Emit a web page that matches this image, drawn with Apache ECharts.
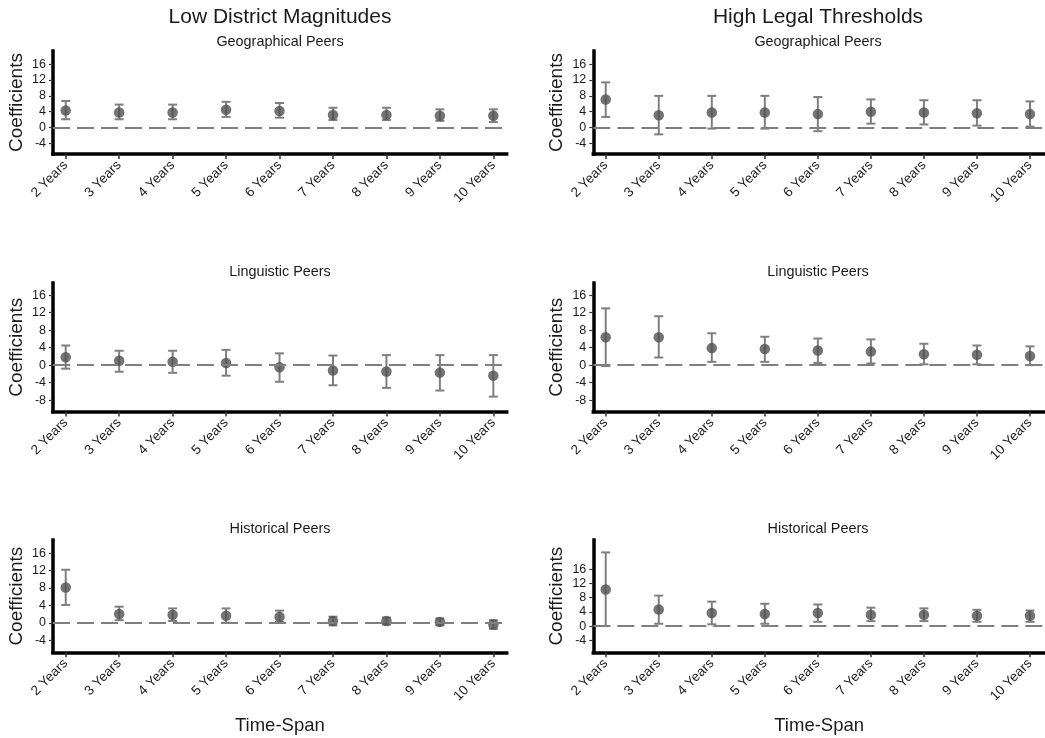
<!DOCTYPE html>
<html>
<head>
<meta charset="utf-8">
<script src="https://cdn.jsdelivr.net/npm/echarts@6/dist/echarts.min.js"></script>
<style>
html,body{margin:0;padding:0;background:#fff;}
#chart{width:1045px;height:738px;}
</style>
</head>
<body>
<div id="chart"></div>
<script>
// ---- data ----
const years = [2, 3, 4, 5, 6, 7, 8, 9, 10];
const yearLabels = ['2 Years', '3 Years', '4 Years', '5 Years', '6 Years', '7 Years', '8 Years', '9 Years', '10 Years'];
const columnTitles = ['Low District Magnitudes', 'High Legal Thresholds'];
const rowTitles = ['Geographical Peers', 'Linguistic Peers', 'Historical Peers'];
const yTicksA = [-4, 0, 4, 8, 12, 16];
const yTicksB = [-8, -4, 0, 4, 8, 12, 16];

// Low District Magnitudes
const geoLowEst = [4.3, 3.8, 3.8, 4.5, 4.2, 3.2, 3.2, 3.0, 3.0];
const geoLowLo  = [2.1, 2.1, 2.1, 2.7, 2.5, 1.9, 1.9, 1.7, 1.4];
const geoLowHi  = [6.7, 5.8, 5.8, 6.5, 6.2, 5.0, 5.0, 4.6, 4.6];

const lingLowEst = [1.8, 1.0, 0.8, 0.5, -0.5, -1.2, -1.45, -1.7, -2.4];
const lingLowLo  = [-0.8, -1.5, -1.75, -2.4, -3.8, -4.6, -5.2, -5.8, -7.2];
const lingLowHi  = [4.5, 3.3, 3.3, 3.5, 2.7, 2.2, 2.3, 2.3, 2.3];

const histLowEst = [8.1, 2.0, 1.85, 1.6, 1.4, 0.4, 0.4, 0.2, -0.4];
const histLowLo  = [4.1, 0.6, 0.4, 0.0, 0.2, -0.6, -0.4, -0.6, -1.4];
const histLowHi  = [12.2, 3.7, 3.3, 3.3, 2.8, 1.4, 1.2, 1.0, 0.6];

// High Legal Thresholds
const geoHighEst = [7.1, 3.1, 3.8, 3.8, 3.4, 4.0, 3.8, 3.6, 3.4];
const geoHighLo  = [2.7, -1.7, -0.25, -0.25, -0.9, 1.0, 0.8, 0.5, 0.25];
const geoHighHi  = [11.4, 8.0, 8.0, 8.0, 7.7, 7.1, 6.9, 6.9, 6.6];

const lingHighEst = [6.4, 6.4, 3.9, 3.7, 3.35, 3.1, 2.5, 2.4, 2.1];
const lingHighLo  = [-0.2, 1.75, 0.76, 0.76, 0.5, 0.4, 0.2, 0.2, 0.0];
const lingHighHi  = [13.0, 11.2, 7.3, 6.5, 6.1, 5.9, 4.9, 4.5, 4.3];

const histHighEst = [10.35, 4.7, 3.7, 3.4, 3.7, 3.2, 3.2, 2.9, 2.9];
const histHighLo  = [0.0, 0.66, 0.5, 0.66, 1.2, 1.4, 1.4, 1.2, 1.2];
const histHighHi  = [20.8, 8.6, 6.9, 6.3, 6.1, 5.2, 5.0, 4.6, 4.4];

// ---- layout (styles/positions) ----
const FONT = '"Liberation Sans", Arial, sans-serif';
const panels = [
  { est: geoLowEst,  lo: geoLowLo,  hi: geoLowHi,  grid: {left: 53, top: 51, width: 453.7, height: 103}, x: [1.762, 10.25], y: [-6.65, 19.3], ticks: yTicksA, last: false },
  { est: geoHighEst, lo: geoHighLo, hi: geoHighHi, grid: {left: 593.3, top: 51, width: 451.7, height: 103}, x: [1.766, 10.283], y: [-6.65, 19.3], ticks: yTicksA, last: false },
  { est: lingLowEst, lo: lingLowLo, hi: lingLowHi, grid: {left: 53, top: 283, width: 453.7, height: 128.5}, x: [1.762, 10.25], y: [-10.6, 18.8], ticks: yTicksB, last: false },
  { est: lingHighEst, lo: lingHighLo, hi: lingHighHi, grid: {left: 593.3, top: 283, width: 451.7, height: 128.5}, x: [1.766, 10.283], y: [-10.6, 18.8], ticks: yTicksB, last: false },
  { est: histLowEst, lo: histLowLo, hi: histLowHi, grid: {left: 53, top: 540, width: 453.7, height: 112.3}, x: [1.762, 10.25], y: [-6.8, 19.05], ticks: yTicksA, last: true },
  { est: histHighEst, lo: histHighLo, hi: histHighHi, grid: {left: 593.3, top: 540, width: 451.7, height: 112.3}, x: [1.766, 10.283], y: [-7.4, 24.3], ticks: yTicksA, last: true }
];

const grids = [], xAxes = [], yAxes = [], series = [], graphics = [];

panels.forEach((p, i) => {
  grids.push(Object.assign({containLabel: false}, p.grid));
  xAxes.push({
    type: 'value', gridIndex: i, min: p.x[0], max: p.x[1],
    splitLine: {show: false},
    axisLine: {show: true, onZero: false, lineStyle: {color: '#000', width: 3.5, cap: 'square'}},
    axisTick: {show: true, length: 5, customValues: years, lineStyle: {color: '#333', width: 1.5}},
    axisLabel: {
      customValues: years, rotate: 45, margin: 9, fontSize: 13.5, fontFamily: FONT, color: '#1a1a1a',
      formatter: v => yearLabels[years.indexOf(Math.round(v))] || ''
    },
    name: p.last ? 'Time-Span' : '', nameLocation: 'middle', nameGap: 64,
    nameTextStyle: {fontSize: 18.5, fontFamily: FONT, color: '#1a1a1a'}
  });
  yAxes.push({
    type: 'value', gridIndex: i, min: p.y[0], max: p.y[1],
    splitLine: {show: false},
    axisLine: {show: true, onZero: false, lineStyle: {color: '#000', width: 3.5, cap: 'square'}},
    axisTick: {show: true, length: 4, customValues: p.ticks, lineStyle: {color: '#333', width: 1.2}},
    axisLabel: {customValues: p.ticks, margin: 7, fontSize: 12.5, fontFamily: FONT, color: '#1a1a1a'},
    name: 'Coefficients', nameLocation: 'middle', nameGap: 27,
    nameTextStyle: {fontSize: 19, fontFamily: FONT, color: '#1a1a1a'}
  });
  const errData = years.map((yr, k) => [yr, p.lo[k], p.hi[k]]);
  series.push({
    type: 'custom', xAxisIndex: i, yAxisIndex: i, z: 2,
    data: errData,
    encode: {x: 0, y: [1, 2]},
    renderItem: (params, api) => {
      const x = api.value(0);
      const top = api.coord([x, api.value(2)]);
      const bot = api.coord([x, api.value(1)]);
      const hw = 4.5;
      const st = {stroke: '#7f7f7f', lineWidth: 2};
      return {
        type: 'group',
        children: [
          {type: 'line', shape: {x1: top[0], y1: top[1], x2: bot[0], y2: bot[1]}, style: st},
          {type: 'line', shape: {x1: top[0] - hw, y1: top[1], x2: top[0] + hw, y2: top[1]}, style: st},
          {type: 'line', shape: {x1: bot[0] - hw, y1: bot[1], x2: bot[0] + hw, y2: bot[1]}, style: st}
        ]
      };
    },
    markLine: {
      silent: true, symbol: 'none', label: {show: false},
      lineStyle: {color: '#7f7f7f', width: 2, type: [17, 7]},
      data: [{yAxis: 0}]
    }
  });
  series.push({
    type: 'scatter', xAxisIndex: i, yAxisIndex: i, z: 3,
    symbolSize: 10.5,
    itemStyle: {color: '#505050'},
    data: years.map((yr, k) => [yr, p.est[k]])
  });
});

// titles
const colCenters = [280, 818];
columnTitles.forEach((t, c) => {
  graphics.push({type: 'text', x: colCenters[c], y: 17, style: {text: t, fontSize: 21, fontFamily: FONT, fill: '#1a1a1a', textAlign: 'center', textVerticalAlign: 'middle'}});
});
const rowTitleY = [42, 272, 529];
rowTitles.forEach((t, r) => {
  colCenters.forEach(cx => {
    graphics.push({type: 'text', x: cx, y: rowTitleY[r], style: {text: t, fontSize: 14.4, fontFamily: FONT, fill: '#1a1a1a', textAlign: 'center', textVerticalAlign: 'middle'}});
  });
});

const chart = echarts.init(document.getElementById('chart'), null, {renderer: 'canvas'});
chart.setOption({
  animation: false,
  backgroundColor: '#fff',
  grid: grids,
  xAxis: xAxes,
  yAxis: yAxes,
  series: series,
  graphic: graphics
});
</script>
</body>
</html>
